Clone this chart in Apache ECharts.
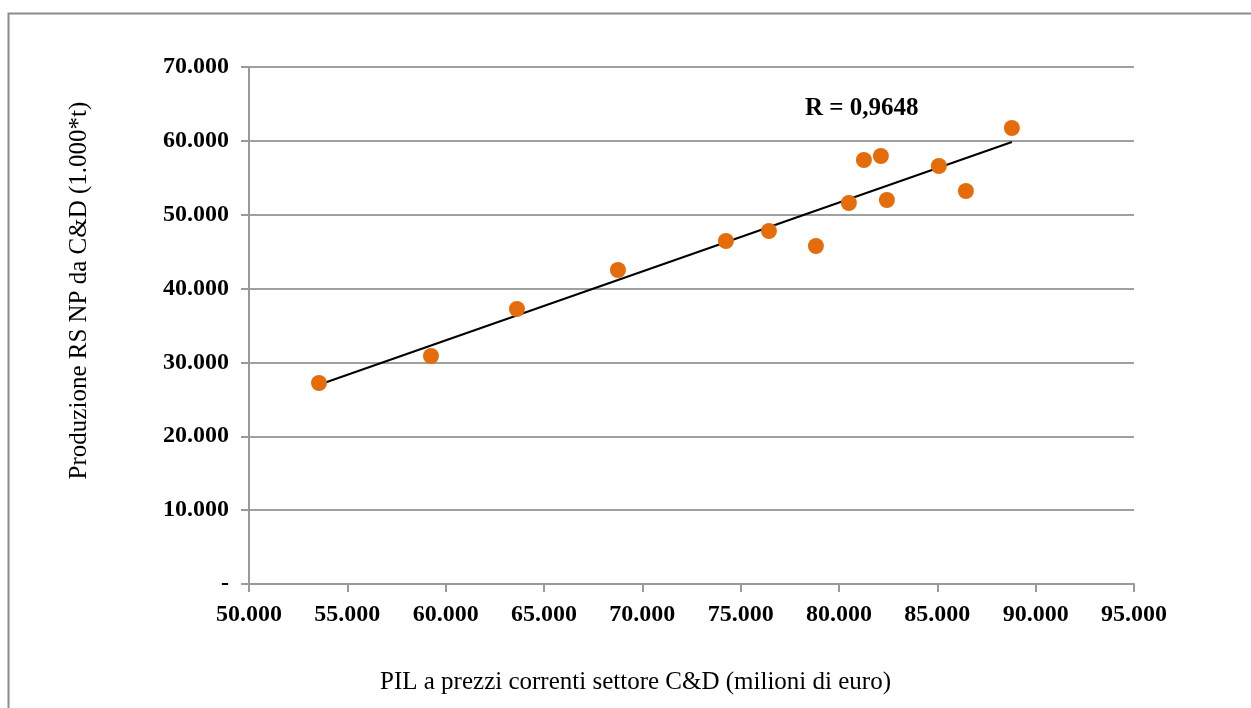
<!DOCTYPE html>
<html>
<head>
<meta charset="utf-8">
<script src="https://cdn.jsdelivr.net/npm/echarts@6/dist/echarts.min.js"></script>
<style>
  html, body { margin: 0; padding: 0; background: #fff; }
  #chart { width: 1251px; height: 708px; }
</style>
</head>
<body>
<div id="chart"></div>
<script>
// PIL settore C&D (milioni di euro) vs produzione RS NP da C&D (1.000*t)
const pil = [53559, 59253, 63625, 68760, 74250, 76437, 78826, 80503, 81266, 82130, 82435, 85079, 86452, 88790];
const produzione = [27214, 30870, 37233, 42513, 46440, 47793, 45762, 51584, 57406, 57948, 51990, 56593, 53209, 61738];
const correlationLabel = 'R = 0,9648';
const xTitle = 'PIL a prezzi correnti settore C&D (milioni di euro)';
const yTitle = 'Produzione RS NP da C&D (1.000*t)';

// least-squares trend line through the points
function linearFit(xs, ys) {
  const n = xs.length;
  const mx = xs.reduce((a, b) => a + b, 0) / n;
  const my = ys.reduce((a, b) => a + b, 0) / n;
  let sxy = 0, sxx = 0;
  for (let i = 0; i < n; i++) {
    sxy += (xs[i] - mx) * (ys[i] - my);
    sxx += (xs[i] - mx) * (xs[i] - mx);
  }
  const slope = sxy / sxx;
  return { slope, intercept: my - slope * mx };
}
const fit = linearFit(pil, produzione);
const xMin = Math.min(...pil), xMax = Math.max(...pil);
const trend = [[xMin, fit.slope * xMin + fit.intercept], [xMax, fit.slope * xMax + fit.intercept]];

// Italian thousands format, zero shown as a dash
function thousands(v) {
  if (v === 0) return '-';
  return (v / 1000).toFixed(0) + '.000';
}

const font = '"Liberation Serif", "Times New Roman", serif';
const chart = echarts.init(document.getElementById('chart'));
chart.setOption({
  animation: false,
  backgroundColor: '#fff',
  grid: { left: 249, top: 67, width: 885, height: 517 },
  graphic: [
    { type: 'rect', shape: { x: 8.5, y: 13.5, width: 1300, height: 800 },
      style: { fill: 'none', stroke: '#8c8c8c', lineWidth: 2 } },
    { type: 'text', left: 805, top: 96,
      style: { text: correlationLabel, font: 'bold 25px ' + font, fill: '#000' } }
  ],
  xAxis: {
    type: 'value', min: 50000, max: 95000, interval: 5000,
    name: xTitle, nameLocation: 'middle', nameGap: 86,
    nameTextStyle: { fontFamily: font, fontSize: 25, color: '#000', padding: [0, 112, 0, 0] },
    axisLine: { show: true, lineStyle: { color: '#999', width: 2 } },
    axisTick: { show: true, length: 8, lineStyle: { color: '#999', width: 2 } },
    axisLabel: { formatter: v => thousands(v), fontFamily: font, fontWeight: 'bold', fontSize: 24, color: '#000', margin: 19 },
    splitLine: { show: false }
  },
  yAxis: {
    type: 'value', min: 0, max: 70000, interval: 10000,
    name: yTitle, nameLocation: 'middle', nameGap: 157, nameRotate: 90,
    nameTextStyle: { fontFamily: font, fontSize: 25, color: '#000', padding: [0, 0, 0, 70] },
    axisLine: { show: true, lineStyle: { color: '#999', width: 2 } },
    axisTick: { show: true, length: 8, lineStyle: { color: '#999', width: 2 } },
    axisLabel: { formatter: v => thousands(v), fontFamily: font, fontWeight: 'bold', fontSize: 24, color: '#000', margin: 20 },
    splitLine: { show: true, lineStyle: { color: '#a0a0a0', width: 2 } }
  },
  series: [
    {
      type: 'line', data: trend, symbol: 'none', silent: true,
      lineStyle: { color: '#000', width: 2 }, z: 2
    },
    {
      type: 'scatter', data: pil.map((x, i) => [x, produzione[i]]),
      symbolSize: 16, itemStyle: { color: '#e46c0a', opacity: 1 }, z: 3
    }
  ]
});
</script>
</body>
</html>
